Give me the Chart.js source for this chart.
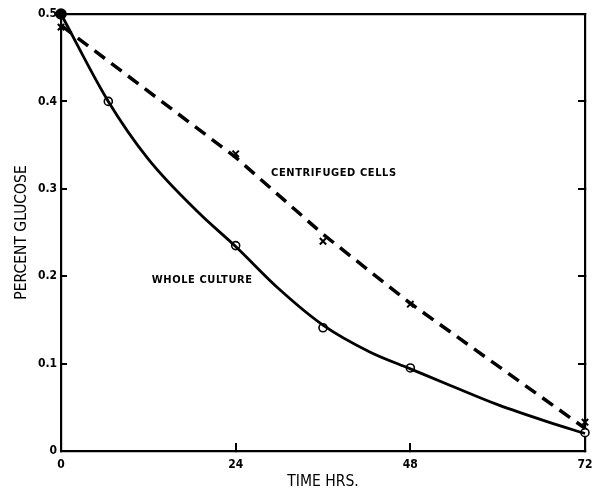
<!DOCTYPE html>
<html>
<head>
<meta charset="utf-8">
<script src="https://cdn.jsdelivr.net/npm/chart.js@4.4.1/dist/chart.umd.min.js"></script>
<style>
  html, body { margin: 0; padding: 0; background: #fff; }
  #wrap { width: 595px; height: 491px; }
</style>
</head>
<body>
<div id="wrap"><canvas id="glucose"></canvas></div>
<script>
// data
const wholeHours = [0, 6.5, 24, 36, 48, 72];
const wholeGlucose = [0.5, 0.4, 0.235, 0.141, 0.095, 0.021];

// the hand drawn smooth curve, read along its length
const wholeCurveHours = [0, 6.5, 12, 19, 24, 30, 36, 42.5, 48, 53.5, 60, 67, 72];
const wholeCurveGlucose = [0.5, 0.4, 0.334, 0.272, 0.234, 0.185, 0.144, 0.113, 0.094, 0.075, 0.053, 0.033, 0.02];

const centHours = [0, 24, 36, 48, 72];
const centGlucose = [0.485, 0.34, 0.24, 0.168, 0.033];

// hand drawn dashed line through the crosses
const centLineHours = [0, 24, 36, 48, 72];
const centLineGlucose = [0.487, 0.336, 0.248, 0.169, 0.026];

const xTicks = [0, 24, 48, 72];
const yTicks = [0, 0.1, 0.2, 0.3, 0.4, 0.5];

const FONT = "'DejaVu Sans Condensed', 'DejaVu Sans', sans-serif";

const toPoints = (xs, ys) => xs.map((x, i) => ({ x: x, y: ys[i] }));

// labels written next to the curves
const curveLabels = [
  { text: "CENTRIFUGED CELLS", x: 37.5, y: 0.318 },
  { text: "WHOLE CULTURE", x: 19.4, y: 0.195 },
];

const curveLabelPlugin = {
  id: "curveLabels",
  afterDatasetsDraw(chart) {
    const ctx = chart.ctx;
    const xs = chart.scales.x, ys = chart.scales.y;
    ctx.save();
    ctx.fillStyle = "#000";
    ctx.font = "bold 11px " + FONT;
    ctx.letterSpacing = "0.6px";
    ctx.textAlign = "center";
    ctx.textBaseline = "middle";
    curveLabels.forEach((l) => {
      ctx.fillText(l.text, xs.getPixelForValue(l.x), ys.getPixelForValue(l.y));
    });
    ctx.restore();
  },
};

const ctxGlucose = document.getElementById("glucose");
new Chart(ctxGlucose, {
  type: "scatter",
  data: {
    datasets: [
      {
        label: "Centrifuged cells line",
        data: toPoints(centLineHours, centLineGlucose),
        showLine: true,
        borderColor: "#000",
        borderWidth: 3.5,
        borderDash: [13, 8],
        pointRadius: 0,
        tension: 0,
        clip: false,
      },
      {
        label: "Centrifuged cells",
        data: toPoints(centHours, centGlucose),
        showLine: false,
        pointStyle: "crossRot",
        pointRadius: 4.5,
        pointBorderWidth: 2,
        borderColor: "#000",
        backgroundColor: "#000",
        clip: false,
      },
      {
        label: "Whole culture curve",
        data: toPoints(wholeCurveHours, wholeCurveGlucose),
        showLine: true,
        borderColor: "#000",
        borderWidth: 2.8,
        cubicInterpolationMode: "monotone",
        pointRadius: 0,
        clip: false,
      },
      {
        label: "Whole culture",
        data: toPoints(wholeHours, wholeGlucose),
        showLine: false,
        pointRadius: (c) => (c.dataIndex === 0 ? 5 : 4),
        pointBorderWidth: 1.6,
        pointBorderColor: "#000",
        pointBackgroundColor: (c) => (c.dataIndex === 0 ? "#000" : "#fff"),
        clip: false,
      },
    ],
  },
  options: {
    responsive: true,
    maintainAspectRatio: false,
    animation: false,
    layout: { padding: { top: 14, right: 10, left: 0, bottom: 0 } },
    plugins: {
      legend: { display: false },
      tooltip: { enabled: false },
    },
    scales: {
      x: {
        type: "linear",
        position: "bottom",
        min: 0,
        max: 72,
        afterBuildTicks: (s) => { s.ticks = xTicks.map((v) => ({ value: v })); },
        afterFit: (s) => { s.height = 40; s.paddingLeft = 0; s.paddingRight = 0; },
        border: { display: true, color: "#000", width: 2.2 },
        grid: { drawOnChartArea: false, drawTicks: true, tickLength: -8, color: "#000", lineWidth: 2 },
        ticks: {
          color: "#000",
          padding: 15,
          font: { family: FONT, size: 12, weight: "bold" },
          maxRotation: 0,
        },
        title: {
          display: true,
          text: "TIME HRS.",
          color: "#000",
          font: { family: FONT, size: 15.5 },
          padding: { top: 0, bottom: 0 },
        },
      },
      x2: {
        type: "linear",
        position: "top",
        min: 0,
        max: 72,
        afterFit: (s) => { s.height = 0; s.paddingLeft = 0; s.paddingRight = 0; },
        border: { display: true, color: "#000", width: 2.2 },
        grid: { display: false },
        ticks: { display: false },
      },
      y: {
        type: "linear",
        position: "left",
        min: 0,
        max: 0.5,
        afterBuildTicks: (s) => { s.ticks = yTicks.map((v) => ({ value: v })); },
        afterFit: (s) => { s.width = 61; s.paddingTop = 0; s.paddingBottom = 0; },
        border: { display: true, color: "#000", width: 2.2 },
        grid: { drawOnChartArea: false, drawTicks: true, tickLength: -6, color: "#000", lineWidth: 2 },
        ticks: {
          color: "#000",
          padding: 10,
          font: { family: FONT, size: 12, weight: "bold" },
          callback: (v) => (v === 0 ? "0" : v.toFixed(1)),
        },
        title: {
          display: true,
          text: "PERCENT GLUCOSE",
          color: "#000",
          font: { family: FONT, size: 15.5 },
          padding: { top: 12.5, bottom: 0 },
        },
      },
      y2: {
        type: "linear",
        position: "right",
        min: 0,
        max: 0.5,
        afterBuildTicks: (s) => { s.ticks = yTicks.map((v) => ({ value: v })); },
        afterFit: (s) => { s.width = 0; s.paddingTop = 0; s.paddingBottom = 0; },
        border: { display: true, color: "#000", width: 2.2 },
        grid: { drawOnChartArea: false, drawTicks: true, tickLength: -7, color: "#000", lineWidth: 2 },
        ticks: { display: false },
      },
    },
  },
  plugins: [curveLabelPlugin],
});
</script>
</body>
</html>
